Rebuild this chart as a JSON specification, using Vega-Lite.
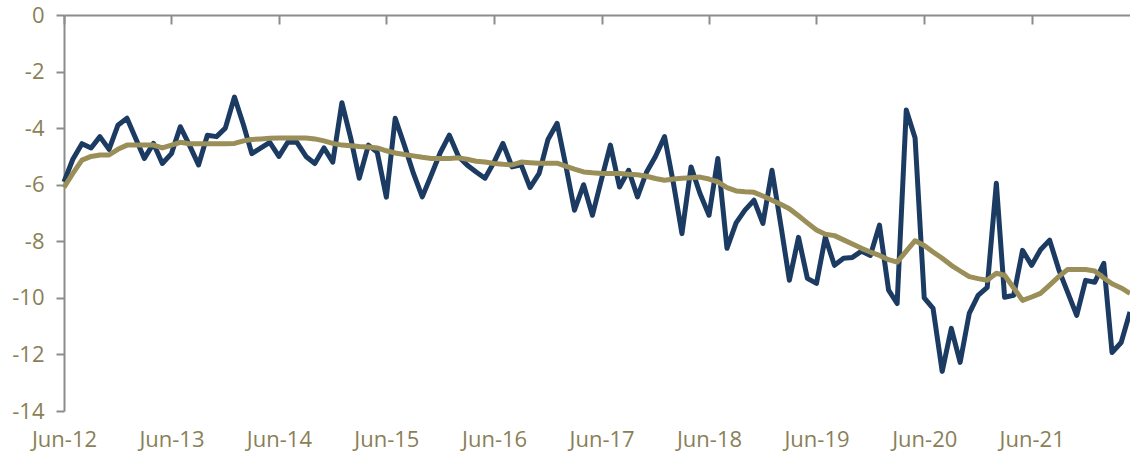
{
  "$schema": "https://vega.github.io/schema/vega-lite/v6.json",
  "width": 1066,
  "height": 396,
  "autosize": {"type": "none"},
  "padding": {"left": 64, "top": 15, "right": 0, "bottom": 51},
  "background": "white",
  "config": {"view": {"stroke": null}, "font": "Open Sans"},
  "data": {"values": [
    {"d":"2012-06-01","a":-5.9,"b":-6.1},{"d":"2012-07-01","a":-5.1,"b":-5.6},{"d":"2012-08-01","a":-4.55,"b":-5.13},{"d":"2012-09-01","a":-4.7,"b":-5.0},{"d":"2012-10-01","a":-4.3,"b":-4.95},{"d":"2012-11-01","a":-4.75,"b":-4.95},{"d":"2012-12-01","a":-3.9,"b":-4.75},
    {"d":"2013-01-01","a":-3.65,"b":-4.6},{"d":"2013-02-01","a":-4.4,"b":-4.6},{"d":"2013-03-01","a":-5.07,"b":-4.6},{"d":"2013-04-01","a":-4.54,"b":-4.6},{"d":"2013-05-01","a":-5.25,"b":-4.7},{"d":"2013-06-01","a":-4.9,"b":-4.6},{"d":"2013-07-01","a":-3.95,"b":-4.5},{"d":"2013-08-01","a":-4.6,"b":-4.55},{"d":"2013-09-01","a":-5.3,"b":-4.55},{"d":"2013-10-01","a":-4.25,"b":-4.55},{"d":"2013-11-01","a":-4.3,"b":-4.55},{"d":"2013-12-01","a":-4.0,"b":-4.55},
    {"d":"2014-01-01","a":-2.9,"b":-4.54},{"d":"2014-02-01","a":-3.9,"b":-4.45},{"d":"2014-03-01","a":-4.9,"b":-4.4},{"d":"2014-04-01","a":-4.7,"b":-4.38},{"d":"2014-05-01","a":-4.5,"b":-4.36},{"d":"2014-06-01","a":-5.0,"b":-4.35},{"d":"2014-07-01","a":-4.5,"b":-4.35},{"d":"2014-08-01","a":-4.5,"b":-4.35},{"d":"2014-09-01","a":-5.0,"b":-4.35},{"d":"2014-10-01","a":-5.25,"b":-4.38},{"d":"2014-11-01","a":-4.7,"b":-4.45},{"d":"2014-12-01","a":-5.2,"b":-4.54},
    {"d":"2015-01-01","a":-3.1,"b":-4.6},{"d":"2015-02-01","a":-4.4,"b":-4.62},{"d":"2015-03-01","a":-5.77,"b":-4.65},{"d":"2015-04-01","a":-4.6,"b":-4.67},{"d":"2015-05-01","a":-4.85,"b":-4.7},{"d":"2015-06-01","a":-6.44,"b":-4.8},{"d":"2015-07-01","a":-3.65,"b":-4.88},{"d":"2015-08-01","a":-4.6,"b":-4.93},{"d":"2015-09-01","a":-5.6,"b":-4.98},{"d":"2015-10-01","a":-6.43,"b":-5.03},{"d":"2015-11-01","a":-5.65,"b":-5.07},{"d":"2015-12-01","a":-4.87,"b":-5.07},
    {"d":"2016-01-01","a":-4.25,"b":-5.07},{"d":"2016-02-01","a":-5.0,"b":-5.05},{"d":"2016-03-01","a":-5.3,"b":-5.1},{"d":"2016-04-01","a":-5.55,"b":-5.17},{"d":"2016-05-01","a":-5.77,"b":-5.2},{"d":"2016-06-01","a":-5.2,"b":-5.25},{"d":"2016-07-01","a":-4.54,"b":-5.28},{"d":"2016-08-01","a":-5.37,"b":-5.3},{"d":"2016-09-01","a":-5.3,"b":-5.2},{"d":"2016-10-01","a":-6.1,"b":-5.22},{"d":"2016-11-01","a":-5.6,"b":-5.24},{"d":"2016-12-01","a":-4.4,"b":-5.24},
    {"d":"2017-01-01","a":-3.83,"b":-5.24},{"d":"2017-02-01","a":-5.4,"b":-5.35},{"d":"2017-03-01","a":-6.9,"b":-5.45},{"d":"2017-04-01","a":-6.0,"b":-5.55},{"d":"2017-05-01","a":-7.08,"b":-5.58},{"d":"2017-06-01","a":-5.8,"b":-5.6},{"d":"2017-07-01","a":-4.6,"b":-5.6},{"d":"2017-08-01","a":-6.08,"b":-5.6},{"d":"2017-09-01","a":-5.49,"b":-5.63},{"d":"2017-10-01","a":-6.43,"b":-5.65},{"d":"2017-11-01","a":-5.55,"b":-5.7},{"d":"2017-12-01","a":-5.0,"b":-5.78},
    {"d":"2018-01-01","a":-4.3,"b":-5.84},{"d":"2018-02-01","a":-6.0,"b":-5.8},{"d":"2018-03-01","a":-7.73,"b":-5.77},{"d":"2018-04-01","a":-5.37,"b":-5.75},{"d":"2018-05-01","a":-6.3,"b":-5.73},{"d":"2018-06-01","a":-7.08,"b":-5.8},{"d":"2018-07-01","a":-5.07,"b":-5.9},{"d":"2018-08-01","a":-8.25,"b":-6.1},{"d":"2018-09-01","a":-7.35,"b":-6.22},{"d":"2018-10-01","a":-6.9,"b":-6.25},{"d":"2018-11-01","a":-6.55,"b":-6.27},{"d":"2018-12-01","a":-7.37,"b":-6.4},
    {"d":"2019-01-01","a":-5.49,"b":-6.55},{"d":"2019-02-01","a":-7.5,"b":-6.7},{"d":"2019-03-01","a":-9.38,"b":-6.85},{"d":"2019-04-01","a":-7.86,"b":-7.1},{"d":"2019-05-01","a":-9.31,"b":-7.35},{"d":"2019-06-01","a":-9.49,"b":-7.6},{"d":"2019-07-01","a":-7.86,"b":-7.75},{"d":"2019-08-01","a":-8.85,"b":-7.8},{"d":"2019-09-01","a":-8.6,"b":-7.95},{"d":"2019-10-01","a":-8.57,"b":-8.1},{"d":"2019-11-01","a":-8.35,"b":-8.25},{"d":"2019-12-01","a":-8.5,"b":-8.38},
    {"d":"2020-01-01","a":-7.43,"b":-8.5},{"d":"2020-02-01","a":-9.73,"b":-8.65},{"d":"2020-03-01","a":-10.2,"b":-8.74},{"d":"2020-04-01","a":-3.36,"b":-8.35},{"d":"2020-05-01","a":-4.35,"b":-7.98},{"d":"2020-06-01","a":-10.0,"b":-8.15},{"d":"2020-07-01","a":-10.37,"b":-8.38},{"d":"2020-08-01","a":-12.6,"b":-8.6},{"d":"2020-09-01","a":-11.08,"b":-8.85},{"d":"2020-10-01","a":-12.28,"b":-9.05},{"d":"2020-11-01","a":-10.55,"b":-9.25},{"d":"2020-12-01","a":-9.91,"b":-9.32},
    {"d":"2021-01-01","a":-9.63,"b":-9.38},{"d":"2021-02-01","a":-5.95,"b":-9.13},{"d":"2021-03-01","a":-9.98,"b":-9.2},{"d":"2021-04-01","a":-9.91,"b":-9.65},{"d":"2021-05-01","a":-8.32,"b":-10.09},{"d":"2021-06-01","a":-8.85,"b":-9.97},{"d":"2021-07-01","a":-8.3,"b":-9.84},{"d":"2021-08-01","a":-7.96,"b":-9.55},{"d":"2021-09-01","a":-9.0,"b":-9.25},{"d":"2021-10-01","a":-9.8,"b":-9.0},{"d":"2021-11-01","a":-10.62,"b":-9.0},{"d":"2021-12-01","a":-9.38,"b":-9.0},
    {"d":"2022-01-01","a":-9.45,"b":-9.05},{"d":"2022-02-01","a":-8.78,"b":-9.3},{"d":"2022-03-01","a":-11.93,"b":-9.5},{"d":"2022-04-01","a":-11.58,"b":-9.65},{"d":"2022-05-01","a":-10.5,"b":-9.84}
  ]},
  "layer": [
    {
      "mark": {"type": "line", "color": "#1c3b63", "strokeWidth": 5, "strokeJoin": "round", "clip": false},
      "encoding": {
        "x": {"field": "d", "type": "temporal",
          "scale": {"type": "utc", "domain": [{"year": 2012, "month": 6, "date": 1, "utc": true}, {"year": 2022, "month": 5, "date": 1, "utc": true}]},
          "axis": {"orient": "bottom", "title": null, "domain": false, "ticks": false, "grid": false,
            "values": [{"year":2012,"month":6,"date":1,"utc":true},{"year":2013,"month":6,"date":1,"utc":true},{"year":2014,"month":6,"date":1,"utc":true},{"year":2015,"month":6,"date":1,"utc":true},{"year":2016,"month":6,"date":1,"utc":true},{"year":2017,"month":6,"date":1,"utc":true},{"year":2018,"month":6,"date":1,"utc":true},{"year":2019,"month":6,"date":1,"utc":true},{"year":2020,"month":6,"date":1,"utc":true},{"year":2021,"month":6,"date":1,"utc":true}],
            "labelExpr": "utcFormat(datum.value, '%b-%y')",
            "labelFont": "Open Sans", "labelFontSize": 22, "labelColor": "#8a7f57", "labelPadding": 18, "labelFlush": false, "labelOverlap": false}},
        "y": {"field": "a", "type": "quantitative",
          "scale": {"domain": [-14, 0], "nice": false, "zero": false},
          "axis": {"title": null, "grid": false, "values": [-14, -12, -10, -8, -6, -4, -2, 0],
            "labelExpr": "'' + datum.value",
            "domainColor": "#8c8c8c", "domainWidth": 2, "tickColor": "#8c8c8c", "tickWidth": 2, "tickSize": 8,
            "labelFont": "Open Sans", "labelFontSize": 22, "labelColor": "#8a7f57", "labelPadding": 12}}
      }
    },
    {
      "mark": {"type": "line", "color": "#9a8f58", "strokeWidth": 5, "strokeJoin": "round", "clip": false},
      "encoding": {
        "x": {"field": "d", "type": "temporal",
          "axis": {"orient": "top", "title": null, "labels": false, "grid": false,
            "values": [{"year":2012,"month":6,"date":1,"utc":true},{"year":2013,"month":6,"date":1,"utc":true},{"year":2014,"month":6,"date":1,"utc":true},{"year":2015,"month":6,"date":1,"utc":true},{"year":2016,"month":6,"date":1,"utc":true},{"year":2017,"month":6,"date":1,"utc":true},{"year":2018,"month":6,"date":1,"utc":true},{"year":2019,"month":6,"date":1,"utc":true},{"year":2020,"month":6,"date":1,"utc":true},{"year":2021,"month":6,"date":1,"utc":true}],
            "domainColor": "#8c8c8c", "domainWidth": 2, "tickColor": "#8c8c8c", "tickWidth": 2, "tickSize": -9}},
        "y": {"field": "b", "type": "quantitative"}
      }
    }
  ],
  "resolve": {"axis": {"x": "independent"}}
}
